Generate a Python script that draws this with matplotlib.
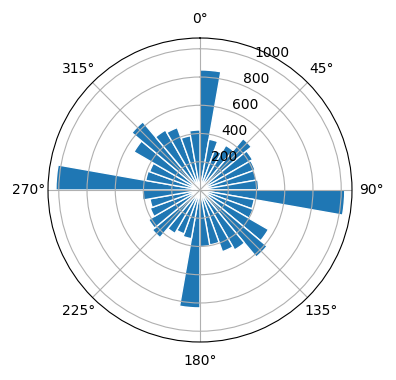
import numpy as np
import matplotlib
matplotlib.use("Agg")
import matplotlib.pyplot as plt

# Direction bins (degrees, bar start) and bar heights
directions = list(range(0, 360, 10))
counts = [850, 365, 300, 365, 475, 430, 415, 405, 415,
          1025, 390, 400, 560, 620, 490, 465, 395, 400,
          835, 350, 330, 355, 440, 420, 375, 360, 410,
          1020, 390, 380, 540, 630, 490, 470, 390, 425]

fig = plt.figure(figsize=(3.96, 3.80), dpi=100)
ax = fig.add_axes([48/396, 38/380, 304/396, 304/380], projection="polar")
ax.set_theta_zero_location("N")
ax.set_theta_direction(-1)

theta = np.deg2rad(directions)
width = np.deg2rad(10)
ax.bar(theta, counts, width=width, align="edge", color="#1f77b4",
       edgecolor="white", linewidth=1)

fig.savefig("out.png", dpi=100)
